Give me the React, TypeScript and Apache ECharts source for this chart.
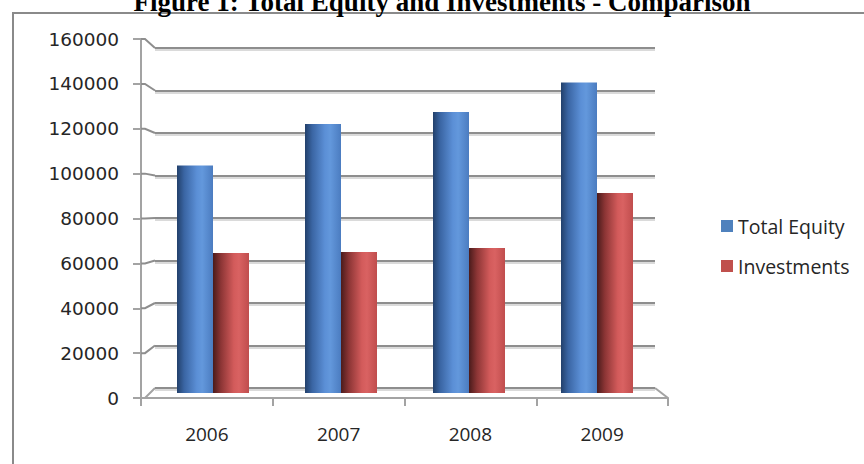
import React, { useEffect, useRef } from "react";
import * as echarts from "echarts";

const years = ["2006", "2007", "2008", "2009"];
const totalEquity = [104000, 123000, 128500, 142000];
const investments = [64000, 64500, 66300, 91400];
const yMin = 0;
const yMax = 160000;
const yStep = 20000;
const titleText = "Figure 1: Total Equity and Investments - Comparison";
const seriesNames = ["Total Equity", "Investments"];

const blueGrad = new echarts.graphic.LinearGradient(0, 0, 1, 0, [
  { offset: 0, color: "#22406b" },
  { offset: 0.2, color: "#3a65a3" },
  { offset: 0.55, color: "#5b8fd6" },
  { offset: 0.7, color: "#6398dc" },
  { offset: 1, color: "#4b7cc0" },
]);
const redGrad = new echarts.graphic.LinearGradient(0, 0, 1, 0, [
  { offset: 0, color: "#4a1b1b" },
  { offset: 0.22, color: "#8c3535" },
  { offset: 0.58, color: "#d35b5b" },
  { offset: 0.72, color: "#d96262" },
  { offset: 1, color: "#c04d4d" },
]);

export default function App() {
  const ref = useRef<HTMLDivElement>(null);
  useEffect(() => {
    if (!ref.current) return;
    const chart = echarts.init(ref.current, null, { renderer: "svg" });
    const gridColor = "#8e8e8e";
    const shadowColor = "#dadada";
    const axisColor = "#a3a3a3";
    const option: any = {
      animation: false,
      backgroundColor: "#ffffff",
      grid: [
        { left: 141, top: 39, width: 527, height: 359 },
        { left: 155, top: 48, width: 500, height: 340 },
        { left: 149, top: 43, width: 512, height: 350 },
        { left: 155, top: 50, width: 500, height: 340 },
      ],
      xAxis: [
        {
          gridIndex: 0,
          type: "category",
          data: years,
          boundaryGap: true,
          axisLine: { show: true, lineStyle: { color: axisColor, width: 2 } },
          axisTick: { show: true, length: 8, lineStyle: { color: axisColor, width: 2 } },
          axisLabel: {
            margin: 26,
            fontFamily: "Open Sans",
            fontSize: 19,
            color: "#262626",
          },
        },
        { gridIndex: 1, type: "category", data: years, axisLine: { show: false }, axisTick: { show: false }, axisLabel: { show: false } },
        { gridIndex: 2, type: "category", data: years, show: false },
        { gridIndex: 3, type: "category", data: years, axisLine: { show: false }, axisTick: { show: false }, axisLabel: { show: false } },
      ],
      yAxis: [
        {
          gridIndex: 0,
          type: "value",
          min: yMin,
          max: yMax,
          interval: yStep,
          axisLine: { show: true, lineStyle: { color: axisColor, width: 2 } },
          axisTick: { show: true, length: 8, lineStyle: { color: axisColor, width: 2 } },
          splitLine: { show: false },
          axisLabel: {
            margin: 22,
            fontFamily: "DejaVu Sans",
            fontSize: 18.5,
            color: "#262626",
            formatter: (v: number) => String(v),
          },
        },
        {
          gridIndex: 1,
          type: "value",
          min: yMin,
          max: yMax,
          interval: yStep,
          z: 2,
          axisLine: { show: false },
          axisTick: { show: false },
          axisLabel: { show: false },
          splitLine: { show: true, lineStyle: { color: gridColor, width: 2 } },
        },
        {
          gridIndex: 2,
          type: "value",
          min: yMin,
          max: yMax,
          show: false,
          splitLine: { show: false },
        },
        {
          gridIndex: 3,
          type: "value",
          min: yMin,
          max: yMax,
          interval: yStep,
          z: 1,
          axisLine: { show: false },
          axisTick: { show: false },
          axisLabel: { show: false },
          splitLine: { show: true, lineStyle: { color: shadowColor, width: 2 } },
        },
      ],
      legend: {
        orient: "vertical",
        left: 716,
        top: 210,
        itemWidth: 12,
        itemHeight: 12,
        itemGap: 18,
        icon: "rect",
        textStyle: {
          fontFamily: "Open Sans",
          fontSize: 19.5,
          color: "#262626",
          lineHeight: 22,
        },
        data: [
          { name: seriesNames[0], itemStyle: { color: "#4f81bd" } },
          { name: seriesNames[1], itemStyle: { color: "#c0504d" } },
        ],
      },
      series: [
        {
          name: seriesNames[0],
          type: "bar",
          xAxisIndex: 2,
          yAxisIndex: 2,
          data: totalEquity,
          barWidth: 36,
          barGap: "0%",
          z: 5,
          itemStyle: { color: blueGrad },
        },
        {
          name: seriesNames[1],
          type: "bar",
          xAxisIndex: 2,
          yAxisIndex: 2,
          data: investments,
          barWidth: 36,
          barGap: "0%",
          z: 5,
          itemStyle: { color: redGrad },
        },
      ],
    };
    chart.setOption(option);

    // decorative 3D wall/floor edges, derived from the axes
    const graphics: any[] = [];
    const backX0 = 155;
    const backX1 = 655;
    const frontX0 = 141;
    const frontX1 = 668;
    for (let v = yMin; v <= yMax; v += yStep) {
      const yf = chart.convertToPixel({ yAxisIndex: 0 }, v) as number;
      const yb = chart.convertToPixel({ yAxisIndex: 1 }, v) as number;
      graphics.push({
        type: "polyline",
        shape: { points: [[frontX0, yf], [frontX0 + 4, yf], [backX0, yb]] },
        style: { stroke: v === yMin ? axisColor : gridColor, lineWidth: 2, fill: null },
        z: 1,
      });
    }
    const yf0 = chart.convertToPixel({ yAxisIndex: 0 }, yMin) as number;
    const yb0 = chart.convertToPixel({ yAxisIndex: 1 }, yMin) as number;
    graphics.push({
      type: "line",
      shape: { x1: backX1, y1: yb0, x2: frontX1, y2: yf0 },
      style: { stroke: axisColor, lineWidth: 2 },
      z: 1,
    });
    graphics.push({
      type: "rect",
      shape: { x: 13, y: 13, width: 900, height: 500 },
      style: { stroke: "#8a8a8a", lineWidth: 2, fill: null },
      z: 0,
    });
    graphics.push({
      type: "text",
      x: 442,
      y: 2,
      style: {
        text: titleText,
        fontFamily: "Liberation Serif",
        fontWeight: "bold",
        fontSize: 27,
        fill: "#000000",
        textAlign: "center",
        textVerticalAlign: "middle",
      },
      z: 5,
    });
    chart.setOption({ graphic: graphics });

    return () => chart.dispose();
  }, []);
  return (
    <div
      ref={ref}
      style={{ position: "absolute", left: 0, top: 0, width: 864, height: 464 }}
    />
  );
}
